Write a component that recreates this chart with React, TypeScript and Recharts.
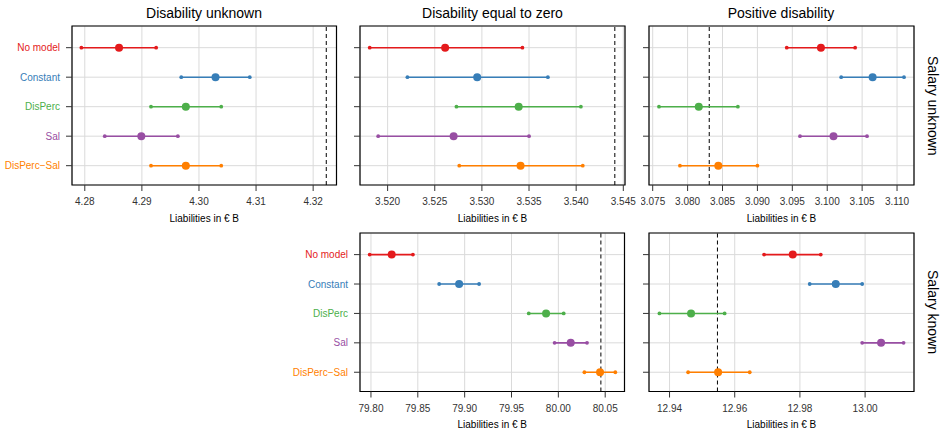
import { ScatterChart, Scatter, XAxis, YAxis, CartesianGrid, ReferenceLine, ReferenceArea } from "recharts";

const MODELS = ["No model", "Constant", "DisPerc", "Sal", "DisPerc\u2212Sal"];
const COLORS = ["#e41a1c", "#377eb8", "#4daf4a", "#984ea3", "#ff7f00"];

// Salary unknown / disability unknown
const suDuLo = [4.2794, 4.2969, 4.2916, 4.2835, 4.2916];
const suDuEst = [4.286, 4.3029, 4.2977, 4.2899, 4.2977];
const suDuHi = [4.2925, 4.3089, 4.3039, 4.2963, 4.3039];
const suDuTruth = 4.3223;
const suDuTicks = [4.28, 4.29, 4.3, 4.31, 4.32];

// Salary unknown / disability equal to zero
const suDzLo = [3.5181, 3.5221, 3.5273, 3.519, 3.5276];
const suDzEst = [3.5261, 3.5295, 3.5339, 3.527, 3.5341];
const suDzHi = [3.5343, 3.537, 3.5405, 3.535, 3.5407];
const suDzTruth = 3.5441;
const suDzTicks = [3.52, 3.525, 3.53, 3.535, 3.54, 3.545];

// Salary unknown / positive disability
const suDpLo = [3.0942, 3.102, 3.0759, 3.0961, 3.0789];
const suDpEst = [3.0991, 3.1065, 3.0816, 3.1009, 3.0844];
const suDpHi = [3.104, 3.111, 3.0872, 3.1057, 3.09];
const suDpTruth = 3.0831;
const suDpTicks = [3.075, 3.08, 3.085, 3.09, 3.095, 3.1, 3.105, 3.11];

// Salary known / disability equal to zero
const skDzLo = [79.7986, 79.8728, 79.9684, 79.996, 80.0278];
const skDzEst = [79.8221, 79.8941, 79.9869, 80.0132, 80.0445];
const skDzHi = [79.8448, 79.9154, 80.0057, 80.0306, 80.0608];
const skDzTruth = 80.0454;
const skDzTicks = [79.8, 79.85, 79.9, 79.95, 80.0, 80.05];

// Salary known / positive disability
const skDpLo = [12.969, 12.983, 12.9369, 12.9991, 12.9457];
const skDpEst = [12.9778, 12.991, 12.9466, 13.0049, 12.9549];
const skDpHi = [12.9864, 12.9991, 12.9569, 13.0118, 12.9646];
const skDpTruth = 12.9547;
const skDpTicks = [12.94, 12.96, 12.98, 13.0];

const FONT = "'Liberation Sans', Arial, Helvetica, sans-serif";
const XH = 40;
const RM = 20; // room on the right for the last tick label
const YDOM: [number, number] = [0.265, 5.655];

type PanelProps = {
  box: number[]; // x0, x1, y0, y1
  domain: [number, number];
  ticks: number[];
  digits: number;
  lo: number[];
  est: number[];
  hi: number[];
  truth: number;
  yw: number;
  labels: boolean;
};

const ModelTick = (props: any) => {
  const { x, y, payload } = props;
  const i = payload.value - 1;
  return (
    <text x={x} y={y} dy="0.35em" textAnchor="end" fontSize={10} fill={COLORS[i]} fontFamily={FONT}>
      {MODELS[i]}
    </text>
  );
};

function Panel({ box, domain, ticks, digits, lo, est, hi, truth, yw, labels }: PanelProps) {
  const [x0, x1, y0, y1] = box;
  const w = x1 - x0 + yw + RM;
  const h = y1 - y0 + 2 + XH;
  return (
    <div style={{ position: "absolute", left: x0 - yw, top: y0 - 2 }}>
      <ScatterChart width={w} height={h} margin={{ top: 2, right: RM, bottom: 0, left: 0 }}>
        <CartesianGrid stroke="#dadada" strokeWidth={1} />
        <XAxis
          type="number"
          dataKey="x"
          domain={domain}
          ticks={ticks}
          interval={0}
          allowDataOverflow
          height={XH}
          tickFormatter={(v: number) => v.toFixed(digits)}
          tick={{ fontSize: 10, fill: "#333", fontFamily: FONT }}
          tickSize={6}
          tickMargin={7}
          tickLine={{ stroke: "#333" }}
          axisLine={false}
          label={{ value: "Liabilities in \u20ac B", position: "insideBottom", offset: 3.5, fontSize: 10, fill: "#000", fontFamily: FONT }}
        />
        <YAxis
          type="number"
          dataKey="y"
          domain={YDOM}
          ticks={[1, 2, 3, 4, 5]}
          reversed
          allowDataOverflow
          width={yw}
          interval={0}
          tick={labels ? <ModelTick /> : () => <g />}
          tickSize={6}
          tickMargin={6}
          tickLine={{ stroke: "#333" }}
          axisLine={false}
        />
        <ReferenceLine x={truth} stroke="#000" strokeWidth={1} strokeDasharray="4 3" />
        {MODELS.map((m, i) => (
          <Scatter
            key={"ci" + m}
            data={[
              { x: lo[i], y: i + 1 },
              { x: hi[i], y: i + 1 },
            ]}
            line={{ stroke: COLORS[i], strokeWidth: 1.6 }}
            shape={(p: any) => <circle cx={p.cx} cy={p.cy} r={1.9} fill={COLORS[i]} />}
            isAnimationActive={false}
          />
        ))}
        {MODELS.map((m, i) => (
          <Scatter
            key={"est" + m}
            data={[{ x: est[i], y: i + 1 }]}
            shape={(p: any) => <circle cx={p.cx} cy={p.cy} r={4} fill={COLORS[i]} />}
            isAnimationActive={false}
          />
        ))}
        <ReferenceArea
          x1={domain[0]}
          x2={domain[1]}
          y1={YDOM[0]}
          y2={YDOM[1]}
          fill="none"
          fillOpacity={0}
          stroke="#000"
          strokeWidth={1.2}
          ifOverflow="visible"
        />
      </ScatterChart>
    </div>
  );
}

const titleStyle = (cx: number): React.CSSProperties => ({
  position: "absolute",
  left: cx - 120,
  width: 240,
  top: 6,
  textAlign: "center",
  fontSize: 14,
  lineHeight: "14px",
  whiteSpace: "nowrap",
});

const stripStyle = (cy: number): React.CSSProperties => ({
  position: "absolute",
  left: 926,
  top: cy - 80,
  height: 160,
  writingMode: "vertical-rl",
  textAlign: "center",
  fontSize: 14,
  lineHeight: "14px",
  whiteSpace: "nowrap",
});

export default function App() {
  return (
    <div
      style={{
        position: "absolute",
        left: 0,
        top: 0,
        width: 945,
        height: 433,
        background: "#fff",
        fontFamily: FONT,
        color: "#000",
        overflow: "hidden",
      }}
    >
      <div style={titleStyle(204)}>Disability unknown</div>
      <div style={titleStyle(492.5)}>Disability equal to zero</div>
      <div style={titleStyle(781)}>Positive disability</div>
      <div style={stripStyle(105.5)}>Salary unknown</div>
      <div style={stripStyle(311.7)}>Salary known</div>

      <Panel box={[72, 336.5, 26, 185]} domain={[4.27776, 4.32409]} ticks={suDuTicks} digits={2}
        lo={suDuLo} est={suDuEst} hi={suDuHi} truth={suDuTruth} yw={72} labels />
      <Panel box={[360, 625, 26, 185]} domain={[3.51707, 3.54518]} ticks={suDzTicks} digits={3}
        lo={suDzLo} est={suDzEst} hi={suDzHi} truth={suDzTruth} yw={8} labels={false} />
      <Panel box={[648.5, 913.5, 26, 185]} domain={[3.07447, 3.11243]} ticks={suDpTicks} digits={3}
        lo={suDpLo} est={suDpEst} hi={suDpHi} truth={suDpTruth} yw={8} labels={false} />
      <Panel box={[360, 624.5, 232.5, 391]} domain={[79.7883, 80.0706]} ticks={skDzTicks} digits={2}
        lo={skDzLo} est={skDzEst} hi={skDzHi} truth={skDzTruth} yw={100} labels />
      <Panel box={[648.5, 913.5, 232.5, 391]} domain={[12.9337, 13.015]} ticks={skDpTicks} digits={2}
        lo={skDpLo} est={skDpEst} hi={skDpHi} truth={skDpTruth} yw={8} labels={false} />
    </div>
  );
}
